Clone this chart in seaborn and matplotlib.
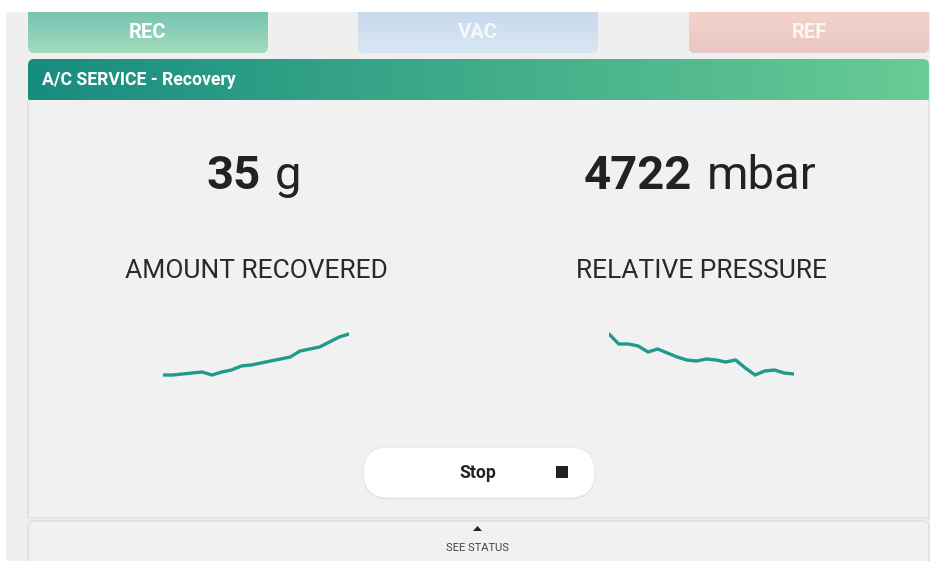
import numpy as np
import pandas as pd
import matplotlib.pyplot as plt
import seaborn as sns
from matplotlib.patches import FancyBboxPatch, Rectangle, Polygon
from matplotlib.colors import LinearSegmentedColormap

# ── Data ─────────────────────────────────────────────────────────────────────
tabs = ["REC", "VAC", "REF"]
header_title = "A/C SERVICE - Recovery"

amount_value = 35          # g
pressure_value = 4722      # mbar

# sparkline readings (one per sample)
recovered_g = [14.5, 14.5, 15.0, 15.5, 16.0, 14.5, 16.0, 17.0, 19.0, 19.5,
               20.5, 21.5, 22.5, 23.5, 26.5, 27.5, 28.5, 31.0, 33.5, 35.0]
pressure_mbar = [5122, 5022, 5022, 5002, 4942, 4972, 4932, 4892, 4862, 4852,
                 4872, 4862, 4842, 4862, 4782, 4712, 4752, 4762, 4732, 4722]

# ── Style ────────────────────────────────────────────────────────────────────
sns.set_theme(style="white")
plt.rcParams["font.family"] = ["Roboto", "DejaVu Sans"]

W, H = 939, 561
TEAL = "#1f9a8b"
fig = plt.figure(figsize=(W / 100, H / 100), dpi=100)
fig.patch.set_facecolor("white")

ui = fig.add_axes([0, 0, 1, 1])
ui.set_xlim(0, W)
ui.set_ylim(H, 0)
ui.axis("off")
ui.set_autoscale_on(False)

# page background
ui.add_patch(Rectangle((6, 12), 924, H - 12, facecolor="#efefef", lw=0, zorder=0))


def gradient_box(x0, y0, x1, y1, c0, c1, horizontal=False, zorder=1, r=6):
    patch = FancyBboxPatch((x0, y0), x1 - x0, y1 - y0,
                           boxstyle=f"round,pad=0,rounding_size={r}",
                           facecolor="none", edgecolor="none", zorder=zorder)
    ui.add_patch(patch)
    cmap = LinearSegmentedColormap.from_list("g", [c0, c1])
    g = np.linspace(0, 1, 256)
    arr = g[None, :] if horizontal else g[:, None]
    im = ui.imshow(arr, cmap=cmap, extent=(x0, x1, y1, y0), aspect="auto",
                   interpolation="bilinear", zorder=zorder)
    im.set_clip_path(patch)


# ── Tabs ─────────────────────────────────────────────────────────────────────
tab_x = [(28, 268), (358, 598), (689, 929)]
tab_cols = [("#6dbcae", "#a2dcbd"), ("#c4d6ea", "#d8e7f4"), ("#f4d6cb", "#e9c7c5")]
tab_alpha = [1.0, 0.8, 0.8]
for name, (x0, x1), (c0, c1), a in zip(tabs, tab_x, tab_cols, tab_alpha):
    gradient_box(x0, 2, x1, 53, c0, c1, zorder=1)
    ui.text((x0 + x1) / 2, 32, name, color="white", alpha=a, fontsize=14.5,
            fontweight="bold", ha="center", va="center", zorder=3)
# white strip on top hides the tab tops
ui.add_patch(Rectangle((0, 0), W, 12, facecolor="white", lw=0, zorder=2))

# ── Header bar ───────────────────────────────────────────────────────────────
gradient_box(28, 59, 929, 110, "#178d7f", "#69cb95", horizontal=True, zorder=1)
ui.text(42, 80, header_title, color="white", fontsize=12.7, fontweight="bold",
        ha="left", va="center", zorder=3)

# ── Panel body ───────────────────────────────────────────────────────────────
ui.add_patch(Rectangle((28, 100), 901, 417, facecolor="#f1f1f1", lw=0, zorder=2))
ui.plot([27.5, 27.5], [100, 517], color="#e2e2e2", lw=1.5, zorder=2)
ui.plot([929, 929], [100, 517], color="#e2e2e2", lw=1.5, zorder=2)
ui.plot([28, 929], [517.5, 517.5], color="#e4e4e4", lw=1.5, zorder=2)

# big values
ui.text(261, 189, f"{amount_value}", fontsize=34, fontweight="bold",
        color="#222222", ha="right", va="baseline", zorder=3)
ui.text(275, 189, "g", fontsize=34, color="#222222", ha="left",
        va="baseline", zorder=3)
ui.text(692, 189, f"{pressure_value}", fontsize=34, fontweight="bold",
        color="#222222", ha="right", va="baseline", zorder=3)
ui.text(707, 189, "mbar", fontsize=34, color="#222222", ha="left",
        va="baseline", zorder=3)

ui.text(256, 278, "AMOUNT RECOVERED", fontsize=19, color="#2a2a2a",
        ha="center", va="baseline", zorder=3)
ui.text(702, 278, "RELATIVE PRESSURE", fontsize=19, color="#2a2a2a",
        ha="center", va="baseline", zorder=3)

# ── Sparklines ───────────────────────────────────────────────────────────────
def spark_axes(x0, x1, y0, y1):
    ax = fig.add_axes([x0 / W, 1 - y1 / H, (x1 - x0) / W, (y1 - y0) / H])
    ax.set_facecolor("none")
    ax.axis("off")
    return ax


df_rec = pd.DataFrame({"sample": range(len(recovered_g)), "g": recovered_g})
ax1 = spark_axes(163, 349, 324, 384)
sns.lineplot(data=df_rec, x="sample", y="g", ax=ax1, color=TEAL,
             linewidth=2.4, solid_capstyle="round", solid_joinstyle="round")
ax1.set_xlim(0, len(recovered_g) - 1)
ax1.set_ylim(10, 40)
ax1.axis("off")

df_pre = pd.DataFrame({"sample": range(len(pressure_mbar)), "mbar": pressure_mbar})
ax2 = spark_axes(609, 794, 324, 384)
sns.lineplot(data=df_pre, x="sample", y="mbar", ax=ax2, color=TEAL,
             linewidth=2.4, solid_capstyle="round", solid_joinstyle="round")
ax2.set_xlim(0, len(pressure_mbar) - 1)
ax2.set_ylim(4622, 5222)
ax2.axis("off")

# ── Stop button ──────────────────────────────────────────────────────────────
ui.add_patch(FancyBboxPatch((363, 448.5), 232, 51,
                            boxstyle="round,pad=0,rounding_size=25.5",
                            facecolor="black", alpha=0.05, lw=0, zorder=3))
ui.add_patch(FancyBboxPatch((363, 447), 232, 51,
                            boxstyle="round,pad=0,rounding_size=25.5",
                            facecolor="white", edgecolor="#e6e6e6", lw=0.8,
                            zorder=3))
ui.text(478, 473, "Stop", fontsize=12.7, fontweight="bold", color="#222222",
        ha="center", va="center", zorder=4)
ui.add_patch(Rectangle((556, 466), 12, 12, facecolor="#222222", lw=0, zorder=4))

# ── See status drawer ────────────────────────────────────────────────────────
ui.add_patch(FancyBboxPatch((28, 521), 901, 60,
                            boxstyle="round,pad=0,rounding_size=6",
                            facecolor="#f1f1f1", edgecolor="#e0e0e0", lw=1.2,
                            zorder=2))
ui.add_patch(Polygon([(473, 531), (482, 531), (477.5, 526)], closed=True,
                     facecolor="#222222", lw=0, zorder=3))
ui.text(478, 548, "SEE STATUS", fontsize=8, color="#444444",
        ha="center", va="center", zorder=3)

plt.savefig("out.png", dpi=100)
